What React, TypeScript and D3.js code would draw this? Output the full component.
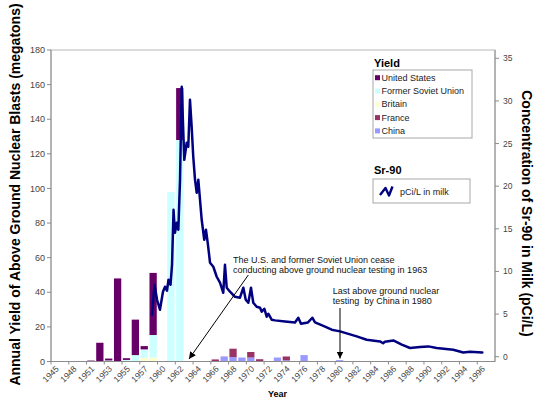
import React from "react";
import * as d3 from "d3";

const categories = ["1945","1946","1948","1949","1951","1952","1953","1954","1955","1956","1957","1958","1960","1961","1962","1963","1964","1965","1966","1967","1968","1969","1970","1971","1972","1973","1974","1975","1976","1977","1978","1979","1980","1981","1982","1983","1984","1985","1986","1987","1988","1989","1990","1991","1992","1993","1994","1995","1996","1997"];

// megatons per year (idx aligned with categories)
const usYield =      [0.05,0.04,0.1,0,0.5,10.8,1.1,48,1.0,20.5,1.9,35.9,0,0,30,0,0,0,0,0,0,0,0,0,0,0,0,0,0,0,0,0,0,0,0,0,0,0,0,0,0,0,0,0,0,0,0,0,0,0];
const sovietYield =  [0,0,0,0.02,0.04,0,0.6,0,0.9,3.7,4.8,13.0,0,98,128,0,0,0,0,0,0,0,0,0,0,0,0,0,0,0,0,0,0,0,0,0,0,0,0,0,0,0,0,0,0,0,0,0,0,0];
const britainYield = [0,0,0,0,0,0.03,0,0,0,0,2.2,2.3,0,0,0,0,0,0,0,0,0,0,0,0,0,0,0,0,0,0,0,0,0,0,0,0,0,0,0,0,0,0,0,0,0,0,0,0,0,0];
const franceYield =  [0,0,0,0,0,0,0,0,0,0,0,0,0.07,0,0,0,0,0,1.2,0.1,4.9,0,3.2,1.3,0.05,0,2.2,0,0,0,0,0,0,0,0,0,0,0,0,0,0,0,0,0,0,0,0,0,0,0];
const chinaYield =   [0,0,0,0,0,0,0,0,0,0,0,0,0,0,0,0,0.02,0.04,0,2.8,2.5,2.3,2.3,0.02,0,2.3,0.7,0,3.7,0.02,0.03,0,0.8,0,0,0,0,0,0,0,0,0,0,0,0,0,0,0,0,0];

const seriesNames = ["United States","Former Soviet Union","Britain","France","China"];
const seriesColors = ["#660066","#ccffff","#ffffcc","#993366","#9999ff"];
const stackOrder = ["China","France","Britain","Former Soviet Union","United States"];

// Sr-90 concentration in milk (pCi/L)
const srYears = [1958.87,1959.16,1959.44,1959.77,1960.11,1960.34,1960.56,1960.73,1960.96,1961.13,1961.30,1961.46,1961.66,1961.84,1962.03,1962.22,1962.51,1962.78,1962.96,1963.15,1963.34,1963.52,1963.72,1963.91,1964.09,1964.28,1964.47,1964.76,1964.95,1965.15,1965.41,1965.78,1966.16,1966.53,1966.90,1967.09,1967.29,1967.66,1968.22,1968.78,1969.16,1969.43,1969.72,1970.02,1970.28,1970.66,1971.04,1971.23,1971.52,1971.79,1971.97,1972.35,1972.73,1973.85,1974.98,1975.35,1975.65,1976.44,1976.93,1977.23,1978.36,1979.11,1980.05,1981.93,1983.05,1984.55,1984.9,1985.1,1986.05,1987.0,1987.93,1989.05,1989.99,1990.93,1992.80,1993.93,1994.68,1996.07];
const srValues = [4.92,8.44,6.68,5.51,7.62,8.21,7.74,9.03,8.44,10.79,17.23,14.54,15.71,14.89,20.75,31.65,23.09,25.09,24.62,30.13,26.96,23.45,20.75,19.23,20.75,18.41,16.06,13.72,14.89,13.36,11.02,10.55,9.38,8.68,7.50,10.79,8.09,7.62,7.03,6.92,8.09,6.68,6.33,8.09,6.33,5.86,5.74,5.28,5.63,4.69,5.04,4.34,4.26,4.14,4.02,4.57,3.87,4.02,4.57,4.02,3.52,3.17,2.97,2.38,1.99,1.79,1.58,1.76,1.91,1.41,1.02,1.14,1.21,1.02,0.82,0.50,0.59,0.50];

const leftTicks = [0,20,40,60,80,100,120,140,160,180];
const rightTicks = [0,5,10,15,20,25,30,35];

const FONT = "'Liberation Sans', Arial, Helvetica, sans-serif";

export default function App() {
  const L = 51, R = 495, T = 50, B = 361.5;
  const x = d3.scaleBand<string>().domain(categories).range([L, R]).paddingInner(0.18).paddingOuter(0.09);
  const cx = (c: string) => (x(c) as number) + x.bandwidth() / 2;
  const yL = d3.scaleLinear().domain([0, 180]).range([B, T]);
  const yR = d3.scaleLinear().domain([0, 35]).range([356.7, 58.3]);
  const xLine = d3.scaleLinear().domain([1960, 1996]).range([cx("1960"), cx("1996")]);

  const all = [usYield, sovietYield, britainYield, franceYield, chinaYield];
  const rows = categories.map((c, i) => {
    const r: any = { cat: c };
    seriesNames.forEach((n, k) => (r[n] = all[k][i]));
    return r;
  });
  const stacked = d3.stack<any>().keys(stackOrder)(rows);
  const colorOf = (n: string) => seriesColors[seriesNames.indexOf(n)];

  const linePts: [number, number][] = srYears.map((yr, i) => [yr, srValues[i]]);
  const linePath = d3.line<[number, number]>().x(d => xLine(d[0])).y(d => yR(d[1]))(linePts) || "";

  const step = x.step();

  return (
    <svg width={538} height={400} style={{ position: "absolute", left: 0, top: 0, background: "#fff" }} fontFamily={FONT}>
      <defs>
        <marker id="ah" viewBox="0 0 10 10" refX="10" refY="5" markerWidth="7" markerHeight="7" orient="auto" markerUnits="userSpaceOnUse">
          <path d="M0,0 L10,5 L0,10 z" fill="#000" />
        </marker>
      </defs>
      <rect x={0} y={0} width={538} height={400} fill="#fff" />
      {/* plot border */}
      <rect x={L} y={T} width={R - L} height={B - T} fill="none" stroke="#b8b8b8" strokeWidth={1} />

      {/* bars */}
      {stacked.map(s => (
        <g key={s.key} fill={colorOf(s.key as string)}>
          {s.map((d, i) =>
            d[1] - d[0] > 0 ? (
              <rect key={i} x={x(categories[i])} width={x.bandwidth()} y={yL(d[1])} height={yL(d[0]) - yL(d[1])} />
            ) : null
          )}
        </g>
      ))}

      {/* Sr-90 line */}
      <path d={linePath} fill="none" stroke="#000080" strokeWidth={2.5} strokeLinejoin="round" strokeLinecap="round" />

      {/* axes */}
      <line x1={L} x2={L} y1={T} y2={B} stroke="#8c8c8c" />
      <line x1={L} x2={R} y1={B} y2={B} stroke="#8c8c8c" />
      <line x1={R} x2={R} y1={T} y2={B} stroke="#8c8c8c" />
      {leftTicks.map(t => (
        <g key={t}>
          <line x1={L - 4} x2={L} y1={yL(t)} y2={yL(t)} stroke="#8c8c8c" />
          <text x={L - 6} y={yL(t)} dy="0.35em" textAnchor="end" fontSize={9} fill="#444">{t}</text>
        </g>
      ))}
      {rightTicks.map(t => (
        <g key={t}>
          <line x1={R} x2={R + 4} y1={yR(t)} y2={yR(t)} stroke="#8c8c8c" />
          <text x={R + 8} y={yR(t)} dy="0.35em" textAnchor="start" fontSize={8.5} fill="#444">{t}</text>
        </g>
      ))}
      {categories.map((c, i) =>
        i % 2 === 0 ? (
          <g key={c}>
            <line x1={x(c) as number - step * 0.09} x2={x(c) as number - step * 0.09} y1={B} y2={B + 3} stroke="#8c8c8c" />
            <text transform={`translate(${cx(c) + 4},${B + 8}) rotate(-45)`} textAnchor="end" fontSize={8.5} fill="#444">{c}</text>
          </g>
        ) : null
      )}

      {/* axis titles */}
      <text transform={`translate(20,194.5) rotate(-90)`} textAnchor="middle" fontSize={14} fontWeight="bold" fill="#000">
        Annual Yield of Above Ground Nuclear Blasts (megatons)
      </text>
      <text transform={`translate(521.7,213.5) rotate(90)`} textAnchor="middle" fontSize={14} fontWeight="bold" fill="#000">
        Concentration of Sr-90 in Milk (pCi/L)
      </text>
      <text x={277.5} y={397} textAnchor="middle" fontSize={9} fontWeight="bold" fill="#000">Year</text>

      {/* Yield legend */}
      <text x={374} y={66.5} fontSize={11} fontWeight="bold" fill="#000">Yield</text>
      <rect x={373} y={70} width={99} height={68} fill="#fff" stroke="#a8a8a8" />
      {seriesNames.map((n, i) => (
        <g key={n}>
          <rect x={375} y={75.2 + i * 13.3} width={5} height={5} fill={seriesColors[i]} />
          <text x={381.5} y={77.7 + i * 13.3} dy="0.35em" fontSize={9} fill="#222">{n}</text>
        </g>
      ))}

      {/* Sr-90 legend */}
      <text x={374} y={174} fontSize={11} fontWeight="bold" fill="#000">Sr-90</text>
      <rect x={373} y={179} width={97} height={24} fill="#fff" stroke="#a8a8a8" />
      <path d="M380,195 L385.5,188 L389,195.5 L392.5,186.5" fill="none" stroke="#000080" strokeWidth={2.4} strokeLinejoin="round" />
      <text x={400} y={191.5} dy="0.35em" fontSize={9} fill="#222">pCi/L in milk</text>

      {/* annotations */}
      <text x={233} y={262.7} fontSize={9} fill="#111">The U.S. and former Soviet Union cease</text>
      <text x={233} y={273.3} fontSize={9} fill="#111">conducting above ground nuclear testing in 1963</text>
      <line x1={248.3} y1={275} x2={189} y2={359} stroke="#000" strokeWidth={1} markerEnd="url(#ah)" />
      <text x={332.7} y={294.3} fontSize={9} fill="#111">Last above ground nuclear</text>
      <text x={332.7} y={304.3} fontSize={9} fill="#111" style={{ whiteSpace: "pre" }}>testing  by China in 1980</text>
      <line x1={340} y1={308} x2={340} y2={358.5} stroke="#000" strokeWidth={1} markerEnd="url(#ah)" />
    </svg>
  );
}
